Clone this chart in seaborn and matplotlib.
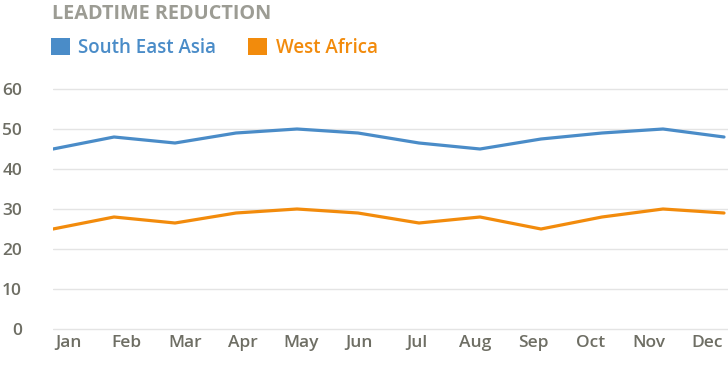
import numpy as np
import pandas as pd
import matplotlib
matplotlib.use("Agg")
import matplotlib.pyplot as plt
from matplotlib.patches import Patch
import seaborn as sns

# data
months = ["Jan", "Feb", "Mar", "Apr", "May", "Jun", "Jul", "Aug", "Sep", "Oct", "Nov", "Dec"]
south_east_asia = [45, 48, 46.5, 49, 50, 49, 46.5, 45, 47.5, 49, 50, 48]
west_africa = [25, 28, 26.5, 29, 30, 29, 26.5, 28, 25, 28, 30, 29]
series_names = ["South East Asia", "West Africa"]

blue = "#4a8cc8"
orange = "#f28b0c"
grey_text = "#6e6e64"

df = pd.DataFrame({
    "pos": list(range(len(months))) * 2,
    "value": south_east_asia + west_africa,
    "region": [series_names[0]] * len(months) + [series_names[1]] * len(months),
})

sns.set_theme(style="white")
plt.rcParams["font.family"] = ["Open Sans", "DejaVu Sans"]
plt.rcParams["font.weight"] = "semibold"

fig = plt.figure(figsize=(7.28, 3.81), dpi=100)
ax = fig.add_axes([53 / 728, 50 / 381, 675 / 728, 244 / 381])

sns.lineplot(data=df, x="pos", y="value", hue="region",
             palette=[blue, orange], linewidth=2.3, legend=False, ax=ax)

ax.set_ylim(-0.5, 60.5)
ax.set_xlim(0, 11 * 675 / 671)
ax.set_yticks(range(0, 61, 10))
ax.yaxis.grid(True, color="#e4e4e4", linewidth=1)
ax.set_axisbelow(True)
for s in ax.spines.values():
    s.set_visible(False)

# month labels sit slightly right of the points, as in the reference
ax.set_xticks(0.26 + np.arange(len(months)) * 0.951)
ax.set_xticklabels(months)
ax.tick_params(axis="x", length=0, pad=3, labelsize=12.5, labelcolor=grey_text)
ax.tick_params(axis="y", length=0, pad=0, labelsize=12.5, labelcolor=grey_text)
for lbl in ax.get_yticklabels():
    lbl.set_horizontalalignment("right")
    lbl.set_x(-31 / 675)
ax.set_xlabel("")
ax.set_ylabel("")

fig.text(52 / 728, 1 - 14 / 381, "LEADTIME REDUCTION", fontsize=14.3,
         fontweight="bold", color="#9c9c94", va="center", ha="left")

handles = [Patch(facecolor=blue, edgecolor="none"), Patch(facecolor=orange, edgecolor="none")]
leg = fig.legend(handles, series_names, loc="center left",
                 bbox_to_anchor=(40 / 728, 1 - 48 / 381), ncol=2, frameon=False,
                 handlelength=1.0, handleheight=1.0, handletextpad=0.45,
                 columnspacing=1.7, fontsize=13.5, borderaxespad=0.2)
for t, c in zip(leg.get_texts(), [blue, orange]):
    t.set_color(c)

fig.savefig("out.png", dpi=100)
